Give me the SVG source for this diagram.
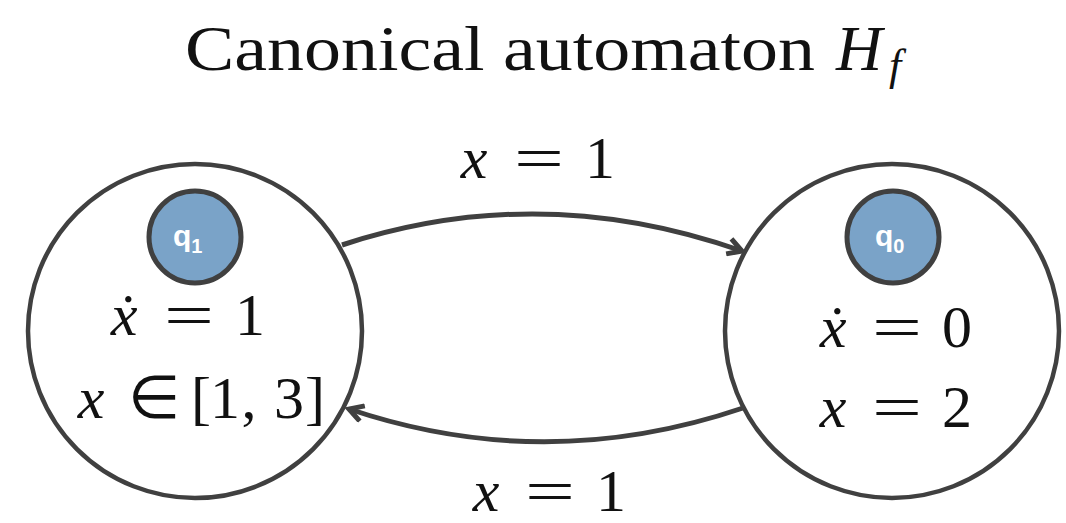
<svg xmlns="http://www.w3.org/2000/svg" width="1066" height="523" viewBox="0 0 1066 523">
<style>
.big{fill:#fff;stroke:#404040;stroke-width:4.5}
.tag{fill:#7aa3c8;stroke:#404040;stroke-width:5}
.tagt{font-family:"Liberation Sans",Arial,sans-serif;font-weight:bold;fill:#fff;font-size:30px}
.sub{font-size:20px}
.m{font-family:"Liberation Serif","Times New Roman",serif;font-size:60px;fill:#111;text-anchor:middle}
.eq{text-anchor:start}
.v{font-style:italic}
.edge{fill:none;stroke:#404040;stroke-width:5}
</style>
<defs>
<marker id="ah" viewBox="0 0 20 20" refX="16" refY="10" markerWidth="20" markerHeight="20" markerUnits="userSpaceOnUse" orient="auto">
<polyline points="2,2 16,10 2,18" fill="none" stroke="#404040" stroke-width="5"/>
</marker>
</defs>
<g id="title" font-family="'Liberation Serif','Times New Roman',serif" fill="#111">
<text x="185" y="70" font-size="64" textLength="630" lengthAdjust="spacingAndGlyphs">Canonical automaton</text>
<text x="836" y="70" font-size="64" font-style="italic">H</text>
<text x="889" y="80" font-size="44" font-style="italic">f</text>
</g>
<g id="edges">
<path class="edge" d="M342,245 Q540,180 742,251" marker-end="url(#ah)"/>
<path class="edge" d="M743,408 Q545,475 349,409" marker-end="url(#ah)"/>
<g class="m">
<text class="v" x="474" y="178">x</text><text class="eq" x="514" y="178" textLength="50" lengthAdjust="spacingAndGlyphs">=</text><text x="600" y="178">1</text>
<text class="v" x="486" y="511">x</text><text class="eq" x="525" y="511" textLength="50" lengthAdjust="spacingAndGlyphs">=</text><text x="611" y="511">1</text>
</g>
</g>
<g id="q1">
<circle class="big" cx="195" cy="331" r="167"/>
<circle class="tag" cx="195" cy="237" r="46"/>
<text class="tagt" x="173" y="246">q<tspan class="sub" dy="7">1</tspan></text>
<g class="m">
<text class="v" x="124" y="335">ẋ</text><text class="eq" x="164" y="335" textLength="50" lengthAdjust="spacingAndGlyphs">=</text><text x="250" y="335">1</text>
<text class="v" x="91" y="418">x</text><text x="154" y="418">∈</text><text x="201" y="418">[</text><text x="225" y="418">1</text><text x="249" y="418">,</text><text x="289" y="418">3</text><text x="315" y="418">]</text>
</g>
</g>
<g id="q0">
<circle class="big" cx="892" cy="331" r="167"/>
<circle class="tag" cx="893" cy="237" r="46"/>
<text class="tagt" x="875" y="246">q<tspan class="sub" dy="7">0</tspan></text>
<g class="m">
<text class="v" x="833" y="347">ẋ</text><text class="eq" x="872" y="347" textLength="50" lengthAdjust="spacingAndGlyphs">=</text><text x="957" y="347">0</text>
<text class="v" x="833" y="427">x</text><text class="eq" x="872" y="427" textLength="50" lengthAdjust="spacingAndGlyphs">=</text><text x="957" y="427">2</text>
</g>
</g>
</svg>
